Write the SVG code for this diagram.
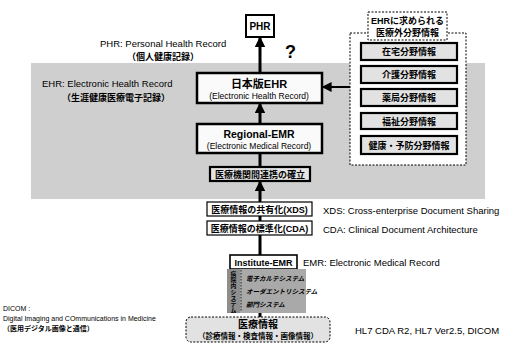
<svg xmlns="http://www.w3.org/2000/svg" width="513" height="345" viewBox="0 0 513 345">
<style>
text{font-family:"Liberation Sans","Noto Sans CJK JP",sans-serif;fill:#000}
.b{font-weight:bold}
.c{text-anchor:middle}
.box{fill:#fafafa;stroke:#000;stroke-width:2.5}
.thin{fill:#fff;stroke:#000;stroke-width:1.2}
.item{fill:#e2e2e2;stroke:#000;stroke-width:2.2}
.ln{stroke:#000;stroke-width:3;fill:none}
.lbl{font-size:9.5px}
.jp{font-size:9px;font-weight:bold}
.v{font-size:5.8px;font-weight:bold;text-anchor:middle}
</style>
<defs>
<marker id="ah" markerWidth="3.6" markerHeight="3.6" refX="3.4" refY="1.8" orient="auto" markerUnits="strokeWidth">
<path d="M0,0 L3.6,1.8 L0,3.6 z" fill="#000"/>
</marker>
<marker id="ah2" markerWidth="5" markerHeight="5" refX="4.8" refY="2.5" orient="auto" markerUnits="strokeWidth">
<path d="M0,0 L5,2.5 L0,5 z" fill="#000"/>
</marker>
</defs>
<rect width="513" height="345" fill="#fff"/>

<!-- gray background EHR region -->
<rect id="ehr-region" x="31" y="63" width="454" height="136" fill="#cfcfcf"/>

<!-- labels -->
<g id="labels">
<text x="100" y="47" class="lbl">PHR: Personal Health Record</text>
<text x="127" y="60" class="jp">（個人健康記録）</text>
<text x="42" y="87" class="lbl">EHR: Electronic Health Record</text>
<text x="62" y="101" class="jp">（生涯健康医療電子記録）</text>
<text x="323" y="214" class="lbl">XDS: Cross-enterprise Document Sharing</text>
<text x="323" y="233" class="lbl">CDA: Clinical Document Architecture</text>
<text x="303" y="266" class="lbl">EMR: Electronic Medical Record</text>
<text x="355" y="334" class="lbl">HL7 CDA R2, HL7 Ver2.5, DICOM</text>
<text x="3" y="311" font-size="7">DICOM :</text>
<text x="3" y="321" font-size="7">Digital Imaging and COmmunications in Medicine</text>
<text x="3" y="331" font-size="7" font-weight="bold">（医用デジタル画像と通信）</text>
<text x="285" y="58" font-size="18" class="b">?</text>
</g>

<!-- connectors -->
<g id="connectors">
<line x1="260" y1="73" x2="260" y2="37" class="ln" marker-end="url(#ah)"/>
<line x1="260" y1="124" x2="260" y2="103" class="ln" marker-end="url(#ah)"/>
<line x1="260" y1="153" x2="260" y2="167" class="ln"/>
<line x1="260" y1="202" x2="260" y2="181" class="ln" marker-end="url(#ah)"/>
<line x1="260" y1="216" x2="260" y2="221" class="ln"/>
<line x1="260" y1="235" x2="260" y2="255" class="ln"/>
<line x1="260" y1="313" x2="260" y2="317" class="ln"/>
<line x1="350" y1="87" x2="322" y2="87" stroke="#000" stroke-width="2" marker-end="url(#ah2)"/>
</g>

<g id="phr">
<rect x="246" y="15" width="28" height="22" fill="#fff" stroke="#000" stroke-width="2"/>
<text x="260" y="30" class="c b" font-size="10">PHR</text>
</g>

<g id="ehr">
<rect x="197" y="73" width="125" height="30" class="box"/>
<text x="259" y="88" class="c b" font-size="11">日本版EHR</text>
<text x="259" y="99" class="c" font-size="8.5">(Electronic Health Record)</text>
</g>

<g id="regional-emr">
<rect x="197" y="124" width="125" height="29" class="box"/>
<text x="259" y="138" class="c b" font-size="10.5">Regional-EMR</text>
<text x="259" y="149" class="c" font-size="8.5">(Electronic Medical Record)</text>
</g>

<g id="renkei">
<rect x="210" y="167" width="100" height="14" fill="#e4e4e4" stroke="#000" stroke-width="2.2"/>
<text x="260" y="177.5" class="c jp">医療機関間連携の確立</text>
</g>

<g id="xds">
<rect x="207" y="202" width="105" height="14" class="thin"/>
<text x="259.5" y="212.5" class="c jp">医療情報の共有化(XDS)</text>
</g>

<g id="cda">
<rect x="207" y="221" width="105" height="14" class="thin"/>
<text x="259.5" y="231.5" class="c jp">医療情報の標準化(CDA)</text>
</g>

<g id="institute-emr">
<rect x="230" y="255" width="67" height="14" fill="#fff" stroke="#000" stroke-width="1.6"/>
<text x="263.5" y="265.5" class="c b" font-size="9">Institute-EMR</text>
</g>

<g id="his">
<rect x="227" y="269" width="79" height="44" fill="#a9a9a9"/>
<rect x="227" y="269" width="13" height="44" fill="#8e8e8e"/>
<line x1="241" y1="270" x2="241" y2="312" stroke="#000" stroke-width="0.8" stroke-dasharray="1.5,1.5"/>
<text x="233.5" y="276" class="v">病</text>
<text x="233.5" y="282" class="v">院</text>
<text x="233.5" y="288" class="v">内</text>
<text x="233.5" y="294" class="v">シ</text>
<text x="233.5" y="300" class="v">ス</text>
<text x="233.5" y="306" class="v">テ</text>
<text x="233.5" y="312" class="v">ム</text>
<text x="246" y="281" class="b" font-size="6.5" font-style="italic">電子カルテシステム</text>
<text x="246" y="294" class="b" font-size="6.5" font-style="italic">オーダエントリシステム</text>
<text x="246" y="307" class="b" font-size="6.5" font-style="italic">部門システム</text>
</g>

<g id="iryo-joho">
<rect x="186" y="317" width="144" height="25" rx="5" fill="#e2e2e2" stroke="#000" stroke-width="1" stroke-dasharray="2,1.5"/>
<text x="258" y="328" class="c b" font-size="10">医療情報</text>
<text x="258" y="339" class="c b" font-size="7.5">（診療情報・検査情報・画像情報）</text>
</g>

<g id="non-medical">
<rect x="350" y="33" width="116" height="132" fill="#fff" stroke="#000" stroke-width="1" stroke-dasharray="2,1.5"/>
<rect x="368" y="12" width="79" height="28" fill="#fff" stroke="#000" stroke-width="1" stroke-dasharray="2,1.5"/>
<text x="407.5" y="24" class="c jp">EHRに求められる</text>
<text x="407.5" y="36" class="c jp">医療外分野情報</text>
<g id="item1"><rect x="361" y="43" width="96" height="17" class="item"/><text x="409" y="55" class="c jp">在宅分野情報</text></g>
<g id="item2"><rect x="361" y="66" width="96" height="17" class="item"/><text x="409" y="78" class="c jp">介護分野情報</text></g>
<g id="item3"><rect x="361" y="89" width="96" height="17" class="item"/><text x="409" y="101" class="c jp">薬局分野情報</text></g>
<g id="item4"><rect x="361" y="113" width="96" height="16" class="item"/><text x="409" y="124.5" class="c jp">福祉分野情報</text></g>
<g id="item5"><rect x="361" y="136" width="96" height="18" class="item"/><text x="409" y="148.5" class="c jp">健康・予防分野情報</text></g>
</g>
</svg>
